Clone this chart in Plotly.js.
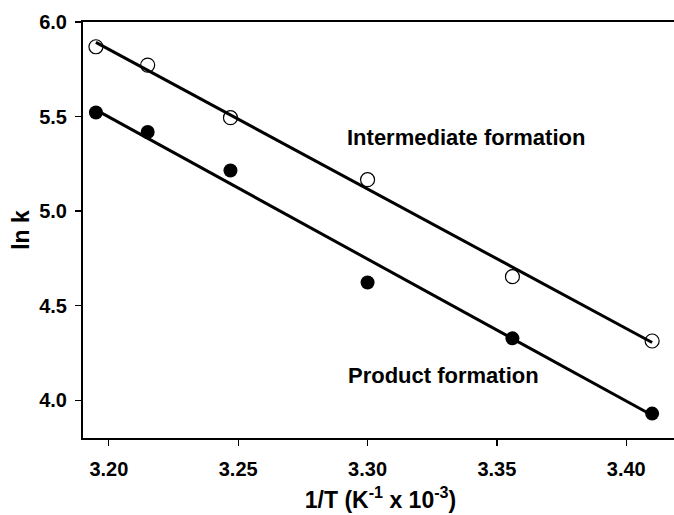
<!DOCTYPE html>
<html>
<head>
<meta charset="utf-8">
<script src="https://cdn.plot.ly/plotly-3.0.1.min.js"></script>
<style>
html, body { margin: 0; padding: 0; overflow: hidden; background: #fff; }
#chart { width: 678px; height: 515px; }
</style>
</head>
<body>
<div id="chart"></div>
<script>
// Data
const invT = [3.195, 3.215, 3.247, 3.300, 3.356, 3.410];
const lnkIntermediate = [5.869, 5.772, 5.494, 5.166, 4.653, 4.313];
const lnkProduct = [5.521, 5.418, 5.215, 4.622, 4.327, 3.929];
const fitX = [3.195, 3.410];
const fitIntermediate = [5.892, 4.305];
const fitProduct = [5.535, 3.920];
const xTicks = [3.20, 3.25, 3.30, 3.35, 3.40];
const yTicks = [4.0, 4.5, 5.0, 5.5, 6.0];
const labelIntermediate = 'Intermediate formation';
const labelProduct = 'Product formation';

const FONT = 'Liberation Sans, Arial, Helvetica, sans-serif';

const traces = [
  {
    x: invT, y: lnkIntermediate, mode: 'markers', type: 'scatter',
    marker: { symbol: 'circle-open', size: 14, color: '#000', line: { width: 1.2, color: '#000' } },
    showlegend: false, hoverinfo: 'skip'
  },
  {
    x: invT, y: lnkProduct, mode: 'markers', type: 'scatter',
    marker: { symbol: 'circle', size: 14, color: '#000' },
    showlegend: false, hoverinfo: 'skip'
  },
  {
    x: fitX, y: fitIntermediate, mode: 'lines', type: 'scatter',
    line: { color: '#000', width: 3 }, showlegend: false, hoverinfo: 'skip'
  },
  {
    x: fitX, y: fitProduct, mode: 'lines', type: 'scatter',
    line: { color: '#000', width: 3 }, showlegend: false, hoverinfo: 'skip'
  }
];

const layout = {
  width: 678, height: 515,
  margin: { l: 83, r: 0, t: 22, b: 77, pad: 0 },
  paper_bgcolor: '#fff', plot_bgcolor: '#fff',
  font: { family: FONT, color: '#000', size: 20, weight: 700 },
  xaxis: {
    range: [3.19, 3.42],
    tickvals: xTicks, ticktext: xTicks.map(v => v.toFixed(2)),
    ticks: 'outside', ticklen: 6, tickwidth: 1.2, tickcolor: '#000',
    showline: true, linewidth: 2, linecolor: '#000', mirror: true,
    showgrid: false, zeroline: false,
    tickfont: { family: FONT, size: 20, weight: 700, color: '#000' },
    ticklabelstandoff: 6,
    title: { text: '1/T (K<sup>-1</sup> x 10<sup>-3</sup>)', font: { family: FONT, size: 23, weight: 700, color: '#000' }, standoff: 13 }
  },
  yaxis: {
    range: [3.8, 6.0],
    tickvals: yTicks, ticktext: yTicks.map(v => v.toFixed(1)),
    ticks: 'outside', ticklen: 6, tickwidth: 1.2, tickcolor: '#000',
    showline: true, linewidth: 2, linecolor: '#000', mirror: true,
    showgrid: false, zeroline: false,
    tickfont: { family: FONT, size: 20, weight: 700, color: '#000' },
    ticklabelstandoff: 4,
    title: { text: 'ln k', font: { family: FONT, size: 23, weight: 700, color: '#000' }, standoff: 3 }
  },
  annotations: [
    {
      x: 3.2912, y: 5.39, xref: 'x', yref: 'y', text: labelIntermediate,
      showarrow: false, xanchor: 'left', yanchor: 'middle',
      font: { family: FONT, size: 22, weight: 700, color: '#000' }
    },
    {
      x: 3.2916, y: 4.132, xref: 'x', yref: 'y', text: labelProduct,
      showarrow: false, xanchor: 'left', yanchor: 'middle',
      font: { family: FONT, size: 22, weight: 700, color: '#000' }
    }
  ]
};

Plotly.newPlot('chart', traces, layout, { displayModeBar: false, staticPlot: true });
</script>
</body>
</html>
